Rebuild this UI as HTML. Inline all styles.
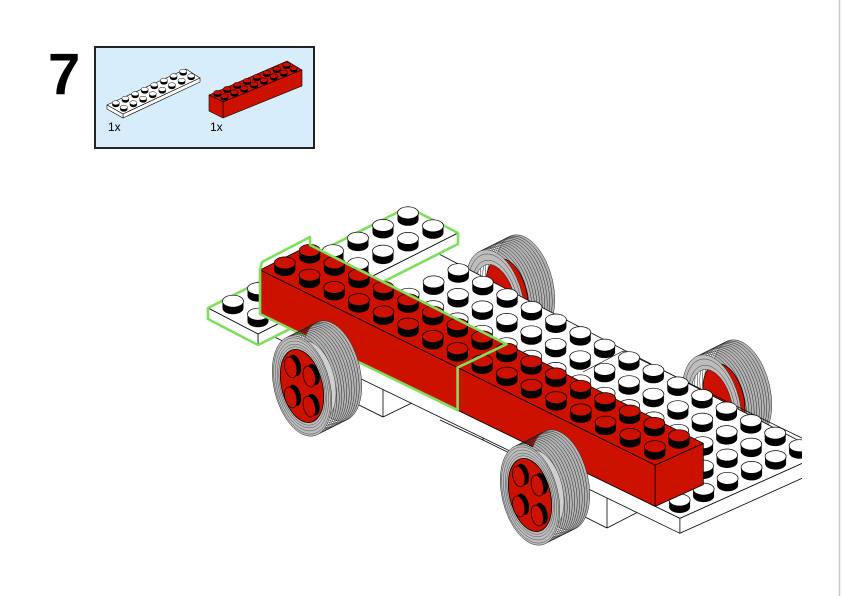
<!DOCTYPE html>
<html><head><meta charset="utf-8"><style>
html,body{margin:0;padding:0;background:#fff;}
#wrap{position:relative;width:842px;height:596px;overflow:hidden;background:#fff;}
</style></head><body><div id="wrap">
<svg id="s" width="842" height="596" viewBox="0 0 842 596" xmlns="http://www.w3.org/2000/svg">
<line x1="839.5" y1="0" x2="839.5" y2="596" stroke="#c8c8c8" stroke-width="1.5"/>
<text x="48" y="94" font-family="Liberation Sans, sans-serif" font-weight="bold" font-size="58" fill="#000">7</text>
<rect x="95" y="47" width="219" height="101" fill="#d8edfb" stroke="#222" stroke-width="2"/>
<text x="108" y="131" font-family="Liberation Sans, sans-serif" font-size="12" fill="#000">1x</text>
<text x="210" y="131" font-family="Liberation Sans, sans-serif" font-size="12" fill="#000">1x</text>
<defs><clipPath id="cl"><rect x="0" y="0" width="802" height="596"/></clipPath></defs>
<g id="icons"></g>
<g id="m" clip-path="url(#cl)"></g>
</svg>
<script>
var S=[];function add(s){S.push(s);}
function P(u,v,d){var vx=25-0.06*u,vy=-12.5+0.1*u,s=1-0.004*u;return [260+24.7*u+vx*v,270+12.2*u+vy*v+d*s];}
function poly(pts,fill,stroke,sw){add('<polygon points="'+pts.map(function(p){return (+p[0]).toFixed(1)+','+(+p[1]).toFixed(1)}).join(' ')+'" fill="'+fill+'" stroke="'+(stroke||'none')+'" stroke-width="'+(sw||0.8)+'" stroke-linejoin="round"/>');}
function line(a,b,c,w){add('<line x1="'+a[0]+'" y1="'+a[1]+'" x2="'+b[0]+'" y2="'+b[1]+'" stroke="'+(c||'#000')+'" stroke-width="'+(w||0.8)+'"/>');}
function stud(x,y,col,rx,ry,h,sw){x=+x;y=+y;add('<path d="M'+(x-rx)+','+y+' A'+rx+','+ry+' 0 0 0 '+(x+rx)+','+y+' L'+(x+rx)+','+(y-h)+' L'+(x-rx)+','+(y-h)+'Z" fill="#000"/>');add('<ellipse cx="'+x+'" cy="'+(y-h)+'" rx="'+rx+'" ry="'+ry+'" fill="'+col+'" stroke="#000" stroke-width="'+(sw||0.7)+'"/>');}
var RED='#cc1100';
function M(cx,cy){return 'matrix(0.62,0.306,0,1,'+cx+','+cy+')';}
function circ(cx,cy,r,fill,stroke,sw,extra){add('<circle transform="'+M(cx,cy)+'" r="'+r+'" fill="'+fill+'" stroke="'+stroke+'" stroke-width="'+sw+'" vector-effect="non-scaling-stroke" '+(extra||'')+'/>');}
function wheel(cx,cy,far){
  var ox=30,oy=-15,R=48;
  circ(cx+ox,cy+oy,R,'#b4b4b4','#222',0.5);
  for(var k=11;k>=1;k--){circ(cx+ox*k/12,cy+oy*k/12,R,'none','#222',0.5);}
  if(far){
    circ(cx+ox*0.4,cy+oy*0.4,34,RED,'#000',0.7);
    add('<circle transform="'+M(cx,cy)+'" r="41" fill="none" stroke="#bdbdbd" stroke-width="14"/>');
    circ(cx,cy,R,'none','#222',0.5);circ(cx,cy,44,'none','#222',0.4);circ(cx,cy,38,'none','#222',0.4);circ(cx,cy,34,'none','#222',0.5);
    return;
  }
  circ(cx+ox*0.35,cy+oy*0.35,38,'#d0d0d0','#222',0.4);
  add('<circle transform="'+M(cx,cy)+'" r="41.5" fill="none" stroke="#bdbdbd" stroke-width="13"/>');
  circ(cx,cy,R,'none','#222',0.5);
  circ(cx,cy,46,'none','#333',0.4);circ(cx,cy,43,'none','#333',0.4);circ(cx,cy,40,'none','#333',0.4);circ(cx,cy,37.5,'none','#333',0.4);
  circ(cx,cy,35,RED,'#000',0.8);
  var pts=[[-15,-15],[15,-15],[-15,15],[15,15]];
  pts.forEach(function(p){
    var sx=cx+0.62*p[0],sy=cy+0.306*p[0]+p[1];
    circ(sx+2,sy-1,10,'#000','#000',0.5);
    circ(sx-2,sy+1,10,RED,'#000',0.7);
  });
}
wheel(495,300,true);
wheel(712,405,true);
add('<polygon points="357,390 383,392 383,417 420,399 420,385" fill="#fff"/>');
line([383,388],[383,417]);line([383,417],[420,399]);line([383,417],[357,404]);
line([483,425],[483,440]);line([483,440],[540,468]);line([440,420],[483,440]);
add('<polygon points="575,505 607,500 607,528 640,512 640,505" fill="#fff"/>');
line([607,496],[607,528]);line([607,528],[642,510]);line([607,528],[575,512]);
var bd=44,bb=60;
poly([P(0,0,bd),P(17,0,bd),P(17,6,bd),P(0,6,bd)],'#fff','#000');
poly([P(0,0,bd),P(17,0,bd),P(17,0,bb),P(0,0,bb)],'#fff','#000');
poly([P(17,0,bd),P(17,6,bd),P(17,6,bb),P(17,0,bb)],'#fff','#000');
line([583,372],[623,351],'#000',0.7);line([623,351],[806,440],'#000',0.7);
var L=[208,308],F=[258,334],Rr=[458,233],B=[408,207],th=11;
function dn(p){return [p[0],p[1]+th];}
poly([L,F,Rr,B],'#fff','#000');
poly([F,Rr,dn(Rr),dn(F)],'#fff','#000');
poly([L,F,dn(F),dn(L)],'#fff','#000');
add('<polygon points="'+[L,B,Rr,dn(Rr),dn(F),dn(L)].map(function(p){return p.join(',')}).join(' ')+'" fill="none" stroke="#7ee05a" stroke-width="2.6" stroke-linejoin="round"/>');
var ps=[];
for(var j=0;j<8;j++)for(var i=0;i<2;i++){
  var a=(i+0.5)/2,b=(j+0.5)/8;
  ps.push([L[0]+a*(F[0]-L[0])+b*(Rr[0]-F[0]),L[1]+a*(F[1]-L[1])+b*(Rr[1]-F[1])]);
}
ps.sort(function(a,b){return a[1]-b[1]});
ps.forEach(function(p){stud(+p[0].toFixed(1),+p[1].toFixed(1),'#fff',10.5,6,7);});
var bs=[];
for(var u=2;u<17;u++)for(var v=0;v<6;v++){
  if(v<2&&u<16)continue;
  bs.push(P(u+0.5,v+0.5,bd));
}
bs.sort(function(a,b){return a[1]-b[1]});
bs.forEach(function(p){stud(+p[0].toFixed(1),+p[1].toFixed(1),'#fff',10.5,6,7);});
poly([P(0,0,0),P(16,0,0),P(16,2,0),P(0,2,0)],RED,'#000');
poly([P(0,0,0),P(16,0,0),P(16,0,44),P(0,0,44)],RED,'#000');
poly([P(16,0,0),P(16,2,0),P(16,2,44),P(16,0,44)],RED,'#000');
line(P(8,0,0),P(8,2,0));line(P(8,0,0),P(8,0,44));
var rs=[];
for(var u=0;u<16;u++)for(var v=0;v<2;v++){rs.push(P(u+0.5,v+0.5,0));}
rs.sort(function(a,b){return a[1]-b[1]});
rs.forEach(function(p){stud(+p[0].toFixed(1),+p[1].toFixed(1),RED,10.5,6,7);});
var g=[P(0,0,44),P(0,0,0),[P(0,0,0)[0]+2,P(0,0,0)[1]-8],[P(0,2,0)[0],P(0,2,0)[1]-8],P(0,2,0),P(8,2,0),P(8,0,0),P(8,0,44)];
add('<polygon points="'+g.map(function(p){return (+p[0]).toFixed(1)+','+(+p[1]).toFixed(1)}).join(' ')+'" fill="none" stroke="#7ee05a" stroke-width="2.6" stroke-linejoin="round"/>');
wheel(302,386,false);
wheel(530,495,false);
document.getElementById('m').innerHTML=S.join('');
S=[];
(function(){
  var L=[107,105],F=[123,114],R=[200,78],B=[186,69],t=4;
  poly([L,F,R,B],'#fff','#000',0.6);
  poly([F,R,[R[0],R[1]+t],[F[0],F[1]+t]],'#fff','#000',0.6);
  poly([L,F,[F[0],F[1]+t],[L[0],L[1]+t]],'#fff','#000',0.6);
  var q=[];
  for(var j=0;j<8;j++)for(var i=0;i<2;i++){var a=(i+0.5)/2,b=(j+0.5)/8;q.push([L[0]+a*(F[0]-L[0])+b*(R[0]-F[0]),L[1]+a*(F[1]-L[1])+b*(R[1]-F[1])]);}
  q.sort(function(a,b){return a[1]-b[1]});
  q.forEach(function(p){stud(+p[0].toFixed(1),+p[1].toFixed(1),'#fff',3.6,2.1,2.2,0.5);});
  L=[209,95];F=[223,102];R=[302,70];B=[287,61];t=16;
  poly([L,F,R,B],RED,'#000',0.6);
  poly([F,R,[R[0],R[1]+t],[F[0],F[1]+t]],RED,'#000',0.6);
  poly([L,F,[F[0],F[1]+t],[L[0],L[1]+t]],RED,'#000',0.6);
  q=[];
  for(var j=0;j<8;j++)for(var i=0;i<2;i++){var a=(i+0.5)/2,b=(j+0.5)/8;q.push([L[0]+a*(F[0]-L[0])+b*(R[0]-F[0]),L[1]+a*(F[1]-L[1])+b*(R[1]-F[1])]);}
  q.sort(function(a,b){return a[1]-b[1]});
  q.forEach(function(p){stud(+p[0].toFixed(1),+p[1].toFixed(1),RED,3.8,2.2,2.2,0.5);});
})();
document.getElementById('icons').innerHTML=S.join('');
</script>
</div></body></html>
